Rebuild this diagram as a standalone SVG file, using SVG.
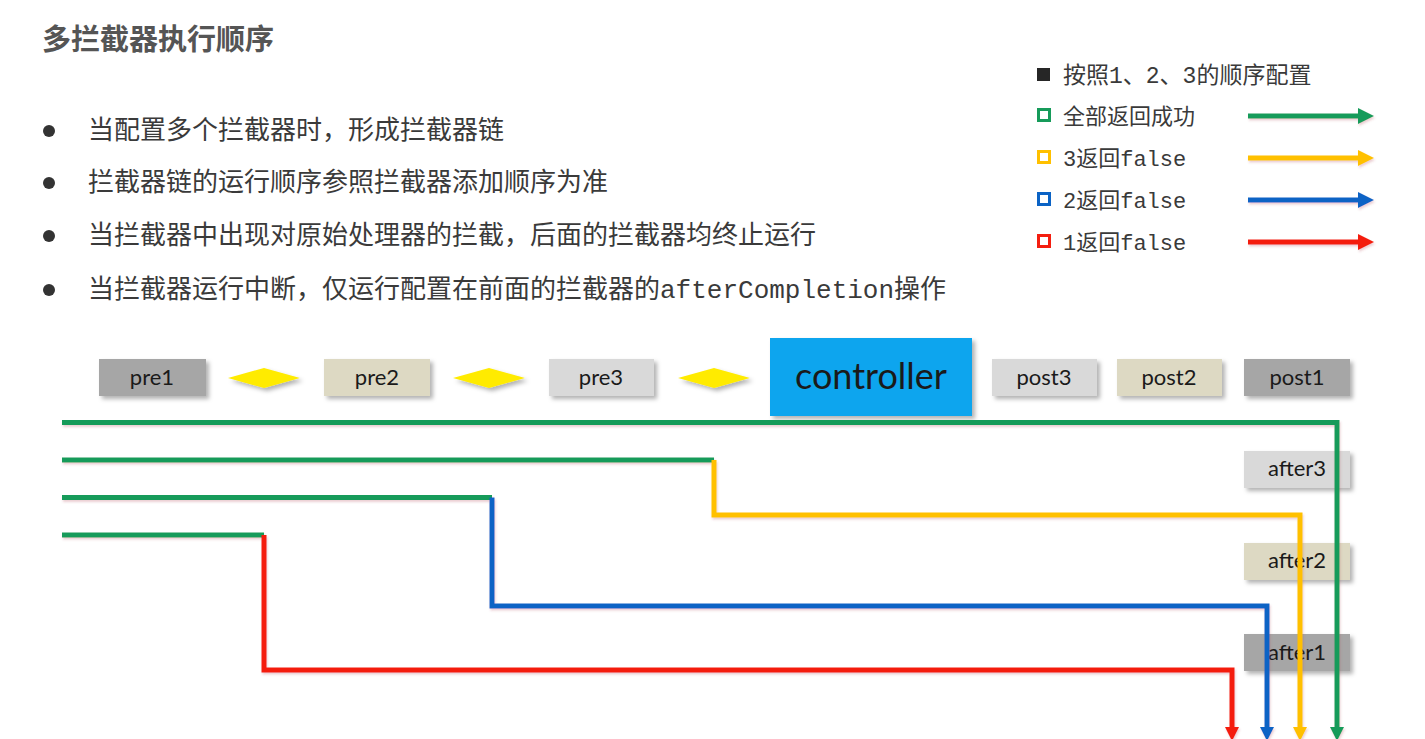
<svg xmlns="http://www.w3.org/2000/svg" width="1425" height="739" viewBox="0 0 1425 739">
<style>
.title{font-family:"Noto Sans CJK SC","Noto Sans",sans-serif;font-size:29px;font-weight:bold;fill:#555}
.bul{font-family:"Noto Sans CJK SC","Noto Sans",sans-serif;font-size:26px;fill:#3a3a3a}
.mono{font-family:"Liberation Mono","Noto Sans CJK SC",monospace}
.leg{font-family:"Liberation Mono","Noto Sans CJK SC",monospace;font-size:22px;fill:#3a3a3a}
.box text{font-family:Lato,"Open Sans",sans-serif;font-size:22px;fill:#1a1a1a;text-anchor:middle}
.g1{fill:#A6A6A6}.g2{fill:#DDD9C3}.g3{fill:#D9D9D9}
.ln{fill:none;stroke-width:5;stroke-linejoin:miter}
.gr{stroke:#169B5A}.ye{stroke:#FFC000}.bl{stroke:#0B63C5}.rd{stroke:#F41E10}
</style>
<defs>
<filter id="sh" x="-20%" y="-20%" width="150%" height="160%">
<feDropShadow dx="3" dy="3" stdDeviation="2" flood-color="#000" flood-opacity="0.3"/>
</filter>
<filter id="lsh" filterUnits="userSpaceOnUse" x="0" y="0" width="1425" height="739">
<feDropShadow dx="1" dy="2" stdDeviation="1" flood-color="#b04050" flood-opacity="0.25"/>
</filter>
<marker id="aG" markerUnits="userSpaceOnUse" markerWidth="14" markerHeight="14" refX="0" refY="7" orient="auto"><path d="M0,0 L14,7 L0,14z" fill="#169B5A"/></marker>
<marker id="aY" markerUnits="userSpaceOnUse" markerWidth="14" markerHeight="14" refX="0" refY="7" orient="auto"><path d="M0,0 L14,7 L0,14z" fill="#FFC000"/></marker>
<marker id="aB" markerUnits="userSpaceOnUse" markerWidth="14" markerHeight="14" refX="0" refY="7" orient="auto"><path d="M0,0 L14,7 L0,14z" fill="#0B63C5"/></marker>
<marker id="aR" markerUnits="userSpaceOnUse" markerWidth="14" markerHeight="14" refX="0" refY="7" orient="auto"><path d="M0,0 L14,7 L0,14z" fill="#F41E10"/></marker>
<marker id="lG" markerUnits="userSpaceOnUse" markerWidth="16" markerHeight="16" refX="0" refY="8" orient="auto"><path d="M0,0 L16,8 L0,16z" fill="#169B5A"/></marker>
<marker id="lY" markerUnits="userSpaceOnUse" markerWidth="16" markerHeight="16" refX="0" refY="8" orient="auto"><path d="M0,0 L16,8 L0,16z" fill="#FFC000"/></marker>
<marker id="lB" markerUnits="userSpaceOnUse" markerWidth="16" markerHeight="16" refX="0" refY="8" orient="auto"><path d="M0,0 L16,8 L0,16z" fill="#0B63C5"/></marker>
<marker id="lR" markerUnits="userSpaceOnUse" markerWidth="16" markerHeight="16" refX="0" refY="8" orient="auto"><path d="M0,0 L16,8 L0,16z" fill="#F41E10"/></marker>
</defs>
<rect width="1425" height="739" fill="#fff"/>

<text class="title" x="42" y="50">多拦截器执行顺序</text>

<g id="bullets">
<circle cx="49" cy="131" r="6" fill="#333"/>
<circle cx="49" cy="183" r="6" fill="#333"/>
<circle cx="49" cy="236" r="6" fill="#333"/>
<circle cx="49" cy="290" r="6" fill="#333"/>
<text class="bul" x="88" y="139">当配置多个拦截器时，形成拦截器链</text>
<text class="bul" x="88" y="191">拦截器链的运行顺序参照拦截器添加顺序为准</text>
<text class="bul" x="88" y="244">当拦截器中出现对原始处理器的拦截，后面的拦截器均终止运行</text>
<text class="bul" x="88" y="298">当拦截器运行中断，仅运行配置在前面的拦截器的<tspan class="mono">afterCompletion</tspan>操作</text>
</g>

<g id="legend">
<rect x="1037" y="68" width="13" height="13" fill="#262626"/>
<rect x="1038.5" y="109.5" width="11" height="11" fill="none" stroke="#169B5A" stroke-width="3"/>
<rect x="1038.5" y="151.5" width="11" height="11" fill="none" stroke="#FFC000" stroke-width="3"/>
<rect x="1038.5" y="193.5" width="11" height="11" fill="none" stroke="#0B63C5" stroke-width="3"/>
<rect x="1038.5" y="235.5" width="11" height="11" fill="none" stroke="#F41E10" stroke-width="3"/>
<text class="leg" x="1063" y="83" style="font-size:23px">按照1、2、3的顺序配置</text>
<text class="leg" x="1063" y="124">全部返回成功</text>
<text class="leg" x="1063" y="166">3返回false</text>
<text class="leg" x="1063" y="208">2返回false</text>
<text class="leg" x="1063" y="250">1返回false</text>
<g filter="url(#lsh)">
<line class="ln gr" x1="1248" y1="116" x2="1358" y2="116" stroke-width="4" marker-end="url(#lG)"/>
<line class="ln ye" x1="1248" y1="158" x2="1358" y2="158" stroke-width="4" marker-end="url(#lY)"/>
<line class="ln bl" x1="1248" y1="200" x2="1358" y2="200" stroke-width="4" marker-end="url(#lB)"/>
<line class="ln rd" x1="1248" y1="242" x2="1358" y2="242" stroke-width="4" marker-end="url(#lR)"/>
</g>
</g>

<g class="box">
<g id="pre1"><rect class="g1" x="99" y="359" width="107" height="37" filter="url(#sh)"/><text x="152" y="385">pre1</text></g>
<g id="pre2"><rect class="g2" x="324" y="359" width="106" height="37" filter="url(#sh)"/><text x="377" y="385">pre2</text></g>
<g id="pre3"><rect class="g3" x="549" y="359" width="105" height="37" filter="url(#sh)"/><text x="601" y="385">pre3</text></g>
<g id="d1"><path d="M228,378 L264,368 L300,378 L264,388z" fill="#FFEB00" filter="url(#sh)"/></g>
<g id="d2"><path d="M453,378 L489,368 L525,378 L489,388z" fill="#FFEB00" filter="url(#sh)"/></g>
<g id="d3"><path d="M678,378 L714,368 L750,378 L714,388z" fill="#FFEB00" filter="url(#sh)"/></g>
<g id="controller"><rect x="770" y="338" width="202" height="78" fill="#0AA5EE" filter="url(#sh)"/><text x="871" y="389" style="font-size:36px">controller</text></g>
<g id="post3"><rect class="g3" x="992" y="359" width="105" height="37" filter="url(#sh)"/><text x="1044" y="385">post3</text></g>
<g id="post2"><rect class="g2" x="1117" y="359" width="105" height="37" filter="url(#sh)"/><text x="1169" y="385">post2</text></g>
<g id="post1"><rect class="g1" x="1244" y="359" width="106" height="37" filter="url(#sh)"/><text x="1297" y="385">post1</text></g>
<g id="after3"><rect class="g3" x="1244" y="451" width="106" height="37" filter="url(#sh)"/><text x="1297" y="476">after3</text></g>
<g id="after2"><rect class="g2" x="1244" y="543" width="106" height="37" filter="url(#sh)"/><text x="1297" y="568">after2</text></g>
<g id="after1"><rect class="g1" x="1244" y="634" width="106" height="37" filter="url(#sh)"/><text x="1297" y="660">after1</text></g>
</g>

<g id="connectors" filter="url(#lsh)">
<path class="ln gr" d="M62,422.5 H1337 V727" marker-end="url(#aG)"/>
<path class="ln gr" d="M62,460 H714"/>
<path class="ln ye" d="M714,460 V515 H1300 V727" marker-end="url(#aY)"/>
<path class="ln gr" d="M62,497.5 H492"/>
<path class="ln bl" d="M492,497.5 V606 H1267 V727" marker-end="url(#aB)"/>
<path class="ln gr" d="M62,535 H264"/>
<path class="ln rd" d="M264,535 V670 H1232 V727" marker-end="url(#aR)"/>
</g>
</svg>
